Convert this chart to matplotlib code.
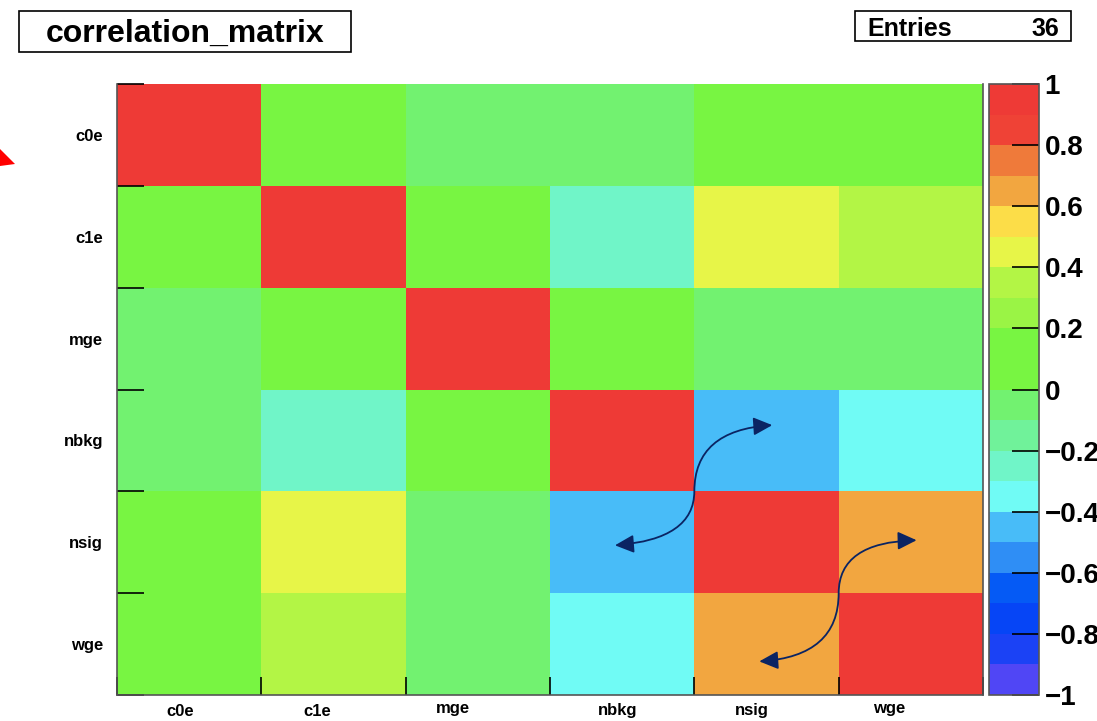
import numpy as np
import matplotlib
matplotlib.use("Agg")
import matplotlib.pyplot as plt
from matplotlib.colors import ListedColormap, BoundaryNorm
from matplotlib.patches import Rectangle, Polygon, FancyArrowPatch
from matplotlib.path import Path

plt.rcParams['font.family'] = ['Liberation Sans', 'DejaVu Sans']

# variables (rows top->bottom, columns left->right)
names = ['c0e', 'c1e', 'mge', 'nbkg', 'nsig', 'wge']

# upper triangle of the correlation matrix
corr_c0e = [1.00, 0.04, -0.03, -0.04, 0.03, 0.04]
corr_c1e = [1.00, 0.05, -0.24, 0.45, 0.34]
corr_mge = [1.00, 0.04, -0.04, -0.03]
corr_nbkg = [1.00, -0.44, -0.35]
corr_nsig = [1.00, 0.66]
corr_wge = [1.00]
n_entries = 36

# ROOT-like palette, 20 levels from -1 to 1
palette = ['#5046f5', '#1b42f5', '#0645f6', '#055af5', '#2f8ef5',
           '#48bcf8', '#70fbf5', '#70f5c8', '#70f29a', '#72f270',
           '#78f542', '#78f542', '#9af445', '#b3f545', '#e7f548',
           '#fcdd48', '#f2a640', '#ef7a3a', '#ef4236', '#ee3a36']
levels = np.linspace(-1, 1, 21)
cbar_ticks = [-1, -0.8, -0.6, -0.4, -0.2, 0, 0.2, 0.4, 0.6, 0.8, 1]
cbar_labels = ['\u22121', '\u22120.8', '\u22120.6', '\u22120.4', '\u22120.2',
               '0', '0.2', '0.4', '0.6', '0.8', '1']

upper = [corr_c0e, corr_c1e, corr_mge, corr_nbkg, corr_nsig, corr_wge]
n = len(names)
corr = np.zeros((n, n))
for i, row in enumerate(upper):
    corr[i, i:] = row
    corr[i:, i] = row

W, H = 1097, 721
fig = plt.figure(figsize=(W / 100, H / 100), dpi=100)

def fbox(x0, y0, x1, y1):
    # pixel box (top-left origin) -> figure fraction rect
    return [x0 / W, 1 - y1 / H, (x1 - x0) / W, (y1 - y0) / H]

ax = fig.add_axes(fbox(117, 84, 983, 695))
cmap = ListedColormap(palette)
norm = BoundaryNorm(levels, cmap.N)
mesh = ax.pcolormesh(np.arange(n + 1), np.arange(n + 1), corr, cmap=cmap, norm=norm)
ax.set_xlim(0, n)
ax.set_ylim(n, 0)

for side in ['left', 'bottom', 'right']:
    ax.spines[side].set_color('#555555')
    ax.spines[side].set_linewidth(1.2)
ax.spines['top'].set_visible(False)

centers = np.arange(n) + 0.5
ax.set_yticks(centers)
ax.set_yticklabels(names, fontsize=12, fontweight='bold')
ax.set_yticks(np.arange(n + 1), minor=True)
ax.set_xticks(np.arange(n + 1), minor=True)
ax.set_xticks([])
ax.tick_params(axis='y', which='major', length=0, pad=10)
ax.tick_params(axis='y', which='minor', direction='in', length=19.5, width=1.2, color='black')
ax.tick_params(axis='x', which='minor', direction='in', length=13, width=1.2, color='black')

# x labels (ROOT places them a bit left of the bin centres)
x_shift_px = [-9, -16, -25, -5, -15, -22]
y_shift_px = [0, 0, 3, 0, 0, 3]
for k, name in enumerate(names):
    tr = ax.get_xaxis_transform() + matplotlib.transforms.ScaledTranslation(
        x_shift_px[k] / 100, y_shift_px[k] / 100, fig.dpi_scale_trans)
    ax.text(centers[k], -16 / 611, name, transform=tr, ha='center', va='center',
            fontsize=12, fontweight='bold')

# curved double arrows
arrow_color = '#0b2463'
paths = [
    [(3.45, 4.53), (4.0, 4.47), (4.0, 4.0), (4.0, 3.4), (4.54, 3.35)],
    [(4.45, 5.67), (5.0, 5.62), (5.0, 5.0), (5.0, 4.5), (5.54, 4.48)],
]
codes = [Path.MOVETO, Path.CURVE3, Path.CURVE3, Path.CURVE3, Path.CURVE3]
for verts in paths:
    arr = FancyArrowPatch(path=Path(verts, codes),
                          arrowstyle='<|-|>,head_length=1.15,head_width=0.55',
                          mutation_scale=10, color=arrow_color, lw=1.3)
    ax.add_patch(arr)

# colour bar
cax = fig.add_axes(fbox(989, 84, 1039, 695))
cb = fig.colorbar(mesh, cax=cax, ticks=cbar_ticks)
cb.outline.set_edgecolor('#555555')
cb.outline.set_linewidth(1.2)
cax.minorticks_off()
cax.tick_params(direction='in', length=19.5, width=1.2, color='black', pad=4)
cax.set_yticklabels(cbar_labels, fontsize=20, fontweight='bold')

# title box
tb = fbox(19, 11, 351, 52)
fig.add_artist(Rectangle(tb[:2], tb[2], tb[3], transform=fig.transFigure,
                         fill=False, edgecolor='black', lw=1.2))
fig.text(tb[0] + tb[2] / 2, tb[1] + tb[3] / 2 - 2 / H, 'correlation_matrix',
         ha='center', va='center', fontsize=23, fontweight='bold')

# stats box
sb = fbox(855, 11, 1071, 41)
fig.add_artist(Rectangle(sb[:2], sb[2], sb[3], transform=fig.transFigure,
                         fill=False, edgecolor='black', lw=1.2))
fig.text(867 / W, sb[1] + sb[3] / 2 - 3 / H, 'Entries', ha='left', va='center',
         fontsize=18, fontweight='bold')
fig.text(1059 / W, sb[1] + sb[3] / 2 - 3 / H, str(n_entries), ha='right', va='center',
         fontsize=18, fontweight='bold')

# red arrow tip poking in from the left edge
tri = [(0, 149), (15, 164), (0, 166)]
fig.add_artist(Polygon([(x / W, 1 - y / H) for x, y in tri], closed=True,
                       transform=fig.transFigure, color='#ff0000', lw=0))

fig.savefig('out.png', dpi=100)
